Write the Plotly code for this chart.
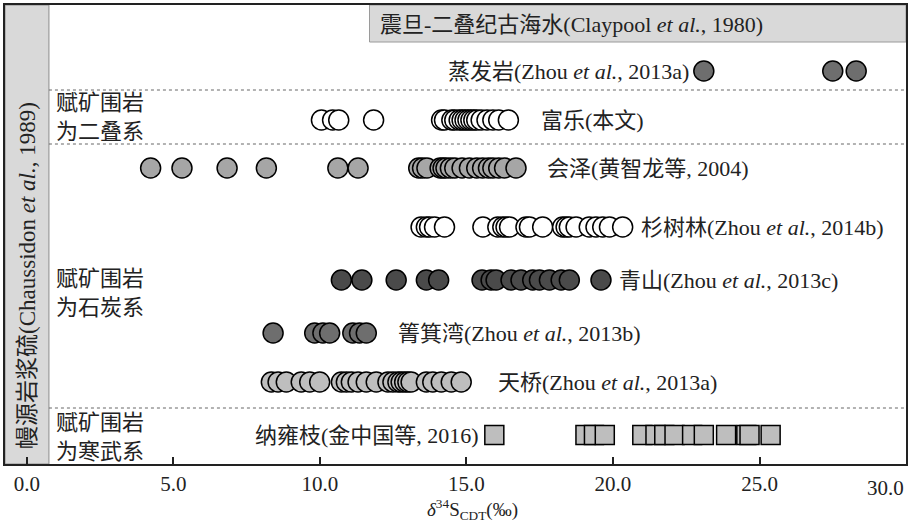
import plotly.graph_objects as go

# ---------------- data (δ34S values, ‰) ----------------
evaporite = [23.1, 27.5, 28.3]
fule = [10.05, 10.43, 10.64, 11.83, 14.15, 14.25, 14.5, 14.6, 14.75, 14.85, 14.95,
        15.05, 15.15, 15.25, 15.35, 15.5, 15.7, 15.9, 16.1, 16.43]
huize = [4.22, 5.29, 6.83, 8.17, 10.61, 11.30, 13.37, 13.5, 13.65, 14.1, 14.2, 14.3,
         14.45, 14.6, 14.85, 15.1, 15.35, 15.55, 15.75, 15.9, 16.1, 16.3, 16.69]
shanshulin = [13.45, 13.63, 13.74, 13.91, 14.25, 15.56, 16.07, 16.24, 16.35, 16.47,
              17.03, 17.15, 17.60, 18.28, 18.40, 18.51, 18.74, 19.19, 19.42, 19.65,
              19.88, 20.33]
qingshan = [10.73, 11.43, 12.60, 13.63, 14.05, 15.53, 15.84, 16.01, 16.52, 16.86,
            17.26, 17.49, 17.83, 18.23, 18.51, 19.59]
qingjiwan = [8.40, 9.82, 10.10, 10.33, 11.12, 11.35, 11.58]
tianqiao = [8.34, 8.57, 8.85, 9.36, 9.65, 9.99, 10.73, 10.90, 11.07, 11.30, 11.58,
            11.92, 12.32, 12.49, 12.66, 12.77, 12.89, 13.00, 13.11, 13.63, 13.85,
            14.14, 14.48, 14.82]
nayongzhi = [15.95, 19.06, 19.35, 19.72, 21.0, 21.45, 21.75, 22.1, 22.7, 23.1,
             23.86, 24.55, 24.66, 25.38]

x_ticks = [0, 5, 10, 15, 20, 25, 30]
x_tick_labels = ["0.0", "5.0", "10.0", "15.0", "20.0", "25.0", "30.0"]

labels = {
    "evaporite": "蒸发岩(Zhou <i>et al.</i>, 2013a)",
    "fule": "富乐(本文)",
    "huize": "会泽(黄智龙等, 2004)",
    "shanshulin": "杉树林(Zhou <i>et al.</i>, 2014b)",
    "qingshan": "青山(Zhou <i>et al.</i>, 2013c)",
    "qingjiwan": "箐箕湾(Zhou <i>et al.</i>, 2013b)",
    "tianqiao": "天桥(Zhou <i>et al.</i>, 2013a)",
    "nayongzhi": "纳雍枝(金中国等, 2016)",
}
seawater_label = "震旦-二叠纪古海水(Claypool <i>et al.</i>, 1980)"
mantle_label = "幔源岩浆硫(Chaussidon <i>et al.</i>, 1989)"
group_labels = ["赋矿围岩<br>为二叠系", "赋矿围岩<br>为石炭系", "赋矿围岩<br>为寒武系"]
x_title = "<i>δ</i><sup>34</sup>S<sub>CDT</sub>(‰)"

# ---------------- layout helpers (positions / styles) ----------------
FONT = "'Liberation Serif', 'Times New Roman', 'Noto Sans CJK SC', serif"
row_y = {"evaporite": 66, "fule": 115, "huize": 163, "shanshulin": 222,
         "qingshan": 275, "qingjiwan": 328, "tianqiao": 377, "nayongzhi": 430}
styles = {
    "evaporite": ("circle", "#6e6e6e"),
    "fule": ("circle", "white"),
    "huize": ("circle", "#a6a6a6"),
    "shanshulin": ("circle", "white"),
    "qingshan": ("circle", "#4a4a4a"),
    "qingjiwan": ("circle", "#6e6e6e"),
    "tianqiao": ("circle", "#bebebe"),
    "nayongzhi": ("square", "#bebebe"),
}
series = {"evaporite": evaporite, "fule": fule, "huize": huize,
          "shanshulin": shanshulin, "qingshan": qingshan, "qingjiwan": qingjiwan,
          "tianqiao": tianqiao, "nayongzhi": nayongzhi}
label_pos = {"evaporite": (22.67, "right"), "fule": (17.49, "left"),
             "huize": (17.69, "left"), "shanshulin": (20.9, "left"),
             "qingshan": (20.15, "left"), "qingjiwan": (12.61, "left"),
             "tianqiao": (16.02, "left"), "nayongzhi": (15.51, "right")}

fig = go.Figure()

shapes = []
shapes.append(dict(type="rect", xref="x", yref="y", x0=-0.75, x1=0.75, y0=0, y1=459,
                   fillcolor="#d9d9d9", line=dict(color="#8c8c8c", width=1), layer="below"))
shapes.append(dict(type="rect", xref="x", yref="y", x0=11.69, x1=30, y0=0, y1=37,
                   fillcolor="#d9d9d9", line=dict(color="#9a9a9a", width=1), layer="below"))
for yy in [85, 139, 403]:
    shapes.append(dict(type="line", xref="x", yref="y", x0=0.75, x1=30, y0=yy, y1=yy,
                       line=dict(color="#666666", width=1, dash="dot"), layer="below"))

for key, vals in series.items():
    sym, col = styles[key]
    fig.add_trace(go.Scatter(
        x=vals, y=[row_y[key]] * len(vals), mode="markers",
        marker=dict(symbol=sym, size=20 if sym == "circle" else 19, color=col,
                    line=dict(color="black", width=1.5)),
        showlegend=False, hoverinfo="x"))

TFONT = dict(family=FONT, size=21, color="#222")
annotations = []
for key, txt in labels.items():
    xx, xa = label_pos[key]
    annotations.append(dict(x=xx, y=row_y[key], xref="x", yref="y", text=txt,
                            showarrow=False, xanchor=xa, yanchor="middle",
                            font=dict(family=FONT, size=22, color="#222")))
annotations.append(dict(x=11.97, y=19, xref="x", yref="y", text=seawater_label,
                        showarrow=False, xanchor="left", yanchor="middle",
                        font=dict(family=FONT, size=22, color="#222")))
annotations.append(dict(x=0.0, y=270, xref="x", yref="y", text=mantle_label,
                        textangle=-90, showarrow=False, xanchor="center", yanchor="middle",
                        font=dict(family=FONT, size=23, color="#222")))
for txt, yy in zip(group_labels, [112, 288, 432]):
    annotations.append(dict(x=0.93, y=yy, xref="x", yref="y", text=txt,
                            showarrow=False, xanchor="left", yanchor="middle", align="left",
                            font=dict(family=FONT, size=22, color="#222")))
annotations.append(dict(x=15.2, y=-0.1, xref="x", yref="paper", text=x_title,
                        showarrow=False, xanchor="center", yanchor="middle",
                        font=dict(family=FONT, size=19, color="#222")))
# last tick label sits flush with the right frame, as in the reference
annotations.append(dict(x=x_ticks[-1], y=0, xref="x", yref="paper", text=x_tick_labels[-1],
                        showarrow=False, xanchor="right", yanchor="middle", yshift=-24,
                        font=TFONT))
tick_text = x_tick_labels[:-1] + [""]

fig.update_layout(
    width=914, height=524, margin=dict(l=5, r=8, t=5, b=60),
    paper_bgcolor="white", plot_bgcolor="white",
    shapes=shapes, annotations=annotations,
    xaxis=dict(range=[-0.75, 30], tickvals=x_ticks, ticktext=tick_text,
               ticks="inside", ticklen=7, tickwidth=2, tickcolor="#222",
               showline=True, linecolor="#222", linewidth=2, mirror=True,
               showgrid=False, zeroline=False, automargin=False,
               tickfont=TFONT),
    yaxis=dict(range=[459, 0], showticklabels=False, ticks="", showgrid=False,
               zeroline=False, showline=True, linecolor="#222", linewidth=2, mirror=True,
               automargin=False),
)

fig.write_html("out.html", config={"displayModeBar": False},
               post_script="document.body.style.margin='0px';document.body.style.overflow='hidden';")
